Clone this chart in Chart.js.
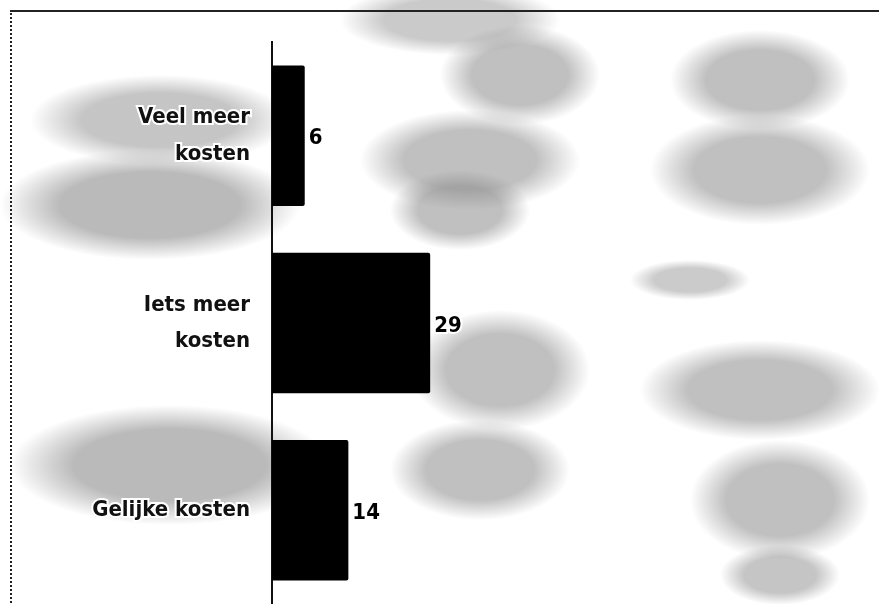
<!DOCTYPE html>
<html>
<head>
<meta charset="utf-8">
<script src="https://cdn.jsdelivr.net/npm/chart.js@4"></script>
<style>
  html, body { margin: 0; padding: 0; background: #ffffff; }
  #wrap { position: relative; width: 879px; height: 604px; overflow: hidden;
    background:
      radial-gradient(ellipse 130px 45px at 160px 120px, rgba(150,150,150,0.55) 60%, rgba(150,150,150,0) 100%),
      radial-gradient(ellipse 150px 55px at 150px 205px, rgba(140,140,140,0.6) 60%, rgba(140,140,140,0) 100%),
      radial-gradient(ellipse 160px 60px at 170px 465px, rgba(140,140,140,0.6) 60%, rgba(140,140,140,0) 100%),
      radial-gradient(ellipse 110px 35px at 450px 20px, rgba(150,150,150,0.5) 60%, rgba(150,150,150,0) 100%),
      radial-gradient(ellipse 80px 50px at 520px 75px, rgba(140,140,140,0.55) 60%, rgba(140,140,140,0) 100%),
      radial-gradient(ellipse 110px 50px at 470px 160px, rgba(140,140,140,0.55) 60%, rgba(140,140,140,0) 100%),
      radial-gradient(ellipse 70px 40px at 460px 210px, rgba(140,140,140,0.55) 60%, rgba(140,140,140,0) 100%),
      radial-gradient(ellipse 90px 50px at 760px 80px, rgba(140,140,140,0.55) 60%, rgba(140,140,140,0) 100%),
      radial-gradient(ellipse 110px 55px at 760px 170px, rgba(140,140,140,0.55) 60%, rgba(140,140,140,0) 100%),
      radial-gradient(ellipse 60px 20px at 690px 280px, rgba(140,140,140,0.45) 60%, rgba(140,140,140,0) 100%),
      radial-gradient(ellipse 90px 60px at 500px 370px, rgba(140,140,140,0.55) 60%, rgba(140,140,140,0) 100%),
      radial-gradient(ellipse 120px 50px at 760px 390px, rgba(140,140,140,0.55) 60%, rgba(140,140,140,0) 100%),
      radial-gradient(ellipse 90px 50px at 480px 470px, rgba(140,140,140,0.55) 60%, rgba(140,140,140,0) 100%),
      radial-gradient(ellipse 90px 60px at 780px 500px, rgba(140,140,140,0.55) 60%, rgba(140,140,140,0) 100%),
      radial-gradient(ellipse 60px 30px at 780px 575px, rgba(140,140,140,0.5) 60%, rgba(140,140,140,0) 100%),
      #ffffff;
  }
  #frame { position: absolute; left: 10px; top: 10px; width: 900px; height: 620px;
    border-left: 2px dotted #222; border-top: 2px solid #222; box-sizing: border-box; }
  canvas { position: absolute; left: 0; top: 0; }
</style>
</head>
<body>
<div id="wrap">
  <div id="frame"></div>
  <canvas id="c" width="879" height="604"></canvas>
</div>
<script>
const categories = [["Veel meer", "kosten"], ["Iets meer", "kosten"], "Gelijke kosten"];
const values = [6, 29, 14];
const valueLabels = ["6", "29", "14"];

const labelFont = "'DejaVu Sans Condensed', 'DejaVu Sans', sans-serif";

const valueLabelPlugin = {
  id: 'valueLabels',
  afterDatasetsDraw(chart) {
    const ctx = chart.ctx;
    const meta = chart.getDatasetMeta(0);
    ctx.save();
    ctx.font = "bold 22px " + labelFont;
    ctx.textAlign = 'left';
    ctx.textBaseline = 'middle';
    ctx.lineJoin = 'round';
    meta.data.forEach((bar, i) => {
      const x = bar.x + 4;
      const y = bar.y + 3;
      ctx.strokeStyle = '#ffffff';
      ctx.lineWidth = 4;
      ctx.strokeText(valueLabels[i], x, y);
      ctx.fillStyle = '#000000';
      ctx.fillText(valueLabels[i], x, y);
    });
    ctx.restore();
  }
};

new Chart(document.getElementById('c'), {
  type: 'bar',
  data: {
    labels: categories,
    datasets: [{
      data: values,
      backgroundColor: '#000000',
      borderWidth: 0,
      borderRadius: 2,
      categoryPercentage: 1.0,
      barPercentage: 0.75
    }]
  },
  options: {
    indexAxis: 'y',
    responsive: false,
    animation: false,
    devicePixelRatio: 1,
    layout: { padding: { top: 42, right: 7, bottom: 0, left: 0 } },
    plugins: { legend: { display: false }, tooltip: { enabled: false } },
    scales: {
      x: {
        display: false,
        min: 0,
        max: 110
      },
      y: {
        afterFit(scale) {
          scale.width = 272;
          scale.paddingTop = 0;
          scale.paddingBottom = 0;
        },
        grid: { display: false, drawTicks: false },
        border: { display: true, color: '#111111', width: 2 },
        ticks: {
          color: '#111111',
          padding: 22,
          font: { family: labelFont, size: 22, weight: 'bold', lineHeight: 1.65 },
          textStrokeColor: '#ffffff',
          textStrokeWidth: 4
        }
      }
    }
  },
  plugins: [valueLabelPlugin]
});
</script>
</body>
</html>
